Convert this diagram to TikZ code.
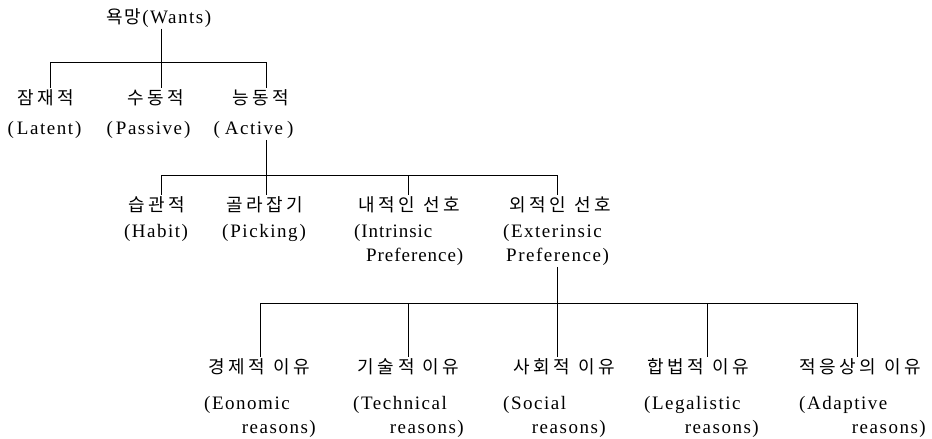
\documentclass[tikz,border=0pt]{standalone}
\usepackage{fontspec}
\setmainfont{Liberation Serif}[LetterSpace=8]
\newfontfamily\tightrm{Liberation Serif}[LetterSpace=5]
\newfontfamily\kr{Noto Sans CJK KR}[LetterSpace=20]
\newcommand\krtext{\kr\fontsize{18}{21}\selectfont}
\newcommand\ksp{\hspace{8pt}}
\begin{document}
\begin{tikzpicture}[x=1pt,y=-1pt,
  en/.style={font=\fontsize{19}{22}\selectfont, inner sep=1pt},
  ent/.style={font=\tightrm\fontsize{19}{22}\selectfont, inner sep=1pt},
  ko/.style={font=\krtext, inner sep=2pt},
  link/.style={line width=1pt, black}]
\useasboundingbox (0,0) rectangle (932,439);

% level 0
\node[en,anchor=west] (wants) at (105,18) {{\krtext 욕\hspace{2pt}망}\hspace{1pt}(Wants)};

% level 1
\node[ko] (latK) at (46,98) {잠재적};
\node[ko] (pasK) at (156,98) {수동적};
\node[ko] (actK) at (261,98) {능동적};
\node[en] (latE) at (44.5,130) {(\hspace{3pt}Latent\hspace{2pt})};
\node[en] (pasE) at (148.5,130) {(\hspace{3pt}Passive\hspace{2pt})};
\node[en] (actE) at (253.5,130) {(\hspace{5pt}Active\hspace{4pt})};

% level 2
\node[ko] (habK) at (157,205) {습관적};
\node[ko] (pickK) at (265,205) {골라잡기};
\node[ko] (intK) at (409,205) {내적인\ksp 선호};
\node[ko] (extK) at (560,205) {외적인\ksp 선호};
\node[en] (habE) at (156,233) {(Habit)};
\node[en] (pickE) at (264,233) {(\hspace{2pt}Picking\hspace{2pt})};
\node[ent,anchor=west] (intE) at (353,233) {(Intrinsic};
\node[ent,anchor=west] (intP) at (365,257) {Preference)};
\node[en,anchor=west] (extE) at (502,233) {(Exterinsic};
\node[en,anchor=west] (extP) at (505,257) {Preference)};

% level 3
\node[ko] (ecoK) at (259,367) {경제적\ksp 이유};
\node[ko] (tecK) at (408.5,367) {기술적\ksp 이유};
\node[ko] (socK) at (564,367) {사회적\ksp 이유};
\node[ko] (legK) at (698,367) {합법적\ksp 이유};
\node[ko] (adaK) at (860,367) {적응상의\ksp 이유};
\node[en,anchor=west] (ecoE) at (203,405) {(Eonomic};
\node[en,anchor=west] (tecE) at (352,405) {(Technical};
\node[en,anchor=west] (socE) at (502,405) {(Social};
\node[en,anchor=west] (legE) at (643,405) {(Legalistic};
\node[en,anchor=west] (adaE) at (798,405) {(Adaptive};
\node[en,anchor=east] (ecoR) at (317,429) {reasons)};
\node[en,anchor=east] (tecR) at (465,429) {reasons)};
\node[en,anchor=east] (socR) at (607,429) {reasons)};
\node[en,anchor=east] (legR) at (760,429) {reasons)};
\node[en,anchor=east] (adaR) at (927,429) {reasons)};

% bus coordinates
\coordinate (b1L) at (50,62);
\coordinate (b1m) at (161,62);
\coordinate (b1R) at (266,62);
\coordinate (b2L) at (161,175);
\coordinate (b2a) at (266,175);
\coordinate (b2b) at (408,175);
\coordinate (b2R) at (557,175);
\coordinate (b3L) at (260,303);
\coordinate (b3b) at (408,303);
\coordinate (b3c) at (557,303);
\coordinate (b3d) at (707,303);
\coordinate (b3R) at (857,303);

% connectors level 0 -> 1
\draw[link] (b1m |- wants.south) -- (b1m |- pasK.north);
\draw[link] (b1L |- latK.north) -- (b1L) -- (b1R) -- (b1R |- actK.north);

% connectors level 1 -> 2
\draw[link] (b2a |- actE.south) -- (b2a |- pickK.north);
\draw[link] (b2L |- habK.north) -- (b2L) -- (b2R) -- (b2R |- extK.north);
\draw[link] (b2b) -- (b2b |- intK.north);

% connectors level 2 -> 3
\draw[link] (b3c |- extP.south) -- (b3c |- socK.north);
\draw[link] (b3L |- ecoK.north) -- (b3L) -- (b3R) -- (b3R |- adaK.north);
\draw[link] (b3b) -- (b3b |- tecK.north);
\draw[link] (b3d) -- (b3d |- legK.north);
\end{tikzpicture}
\end{document}
